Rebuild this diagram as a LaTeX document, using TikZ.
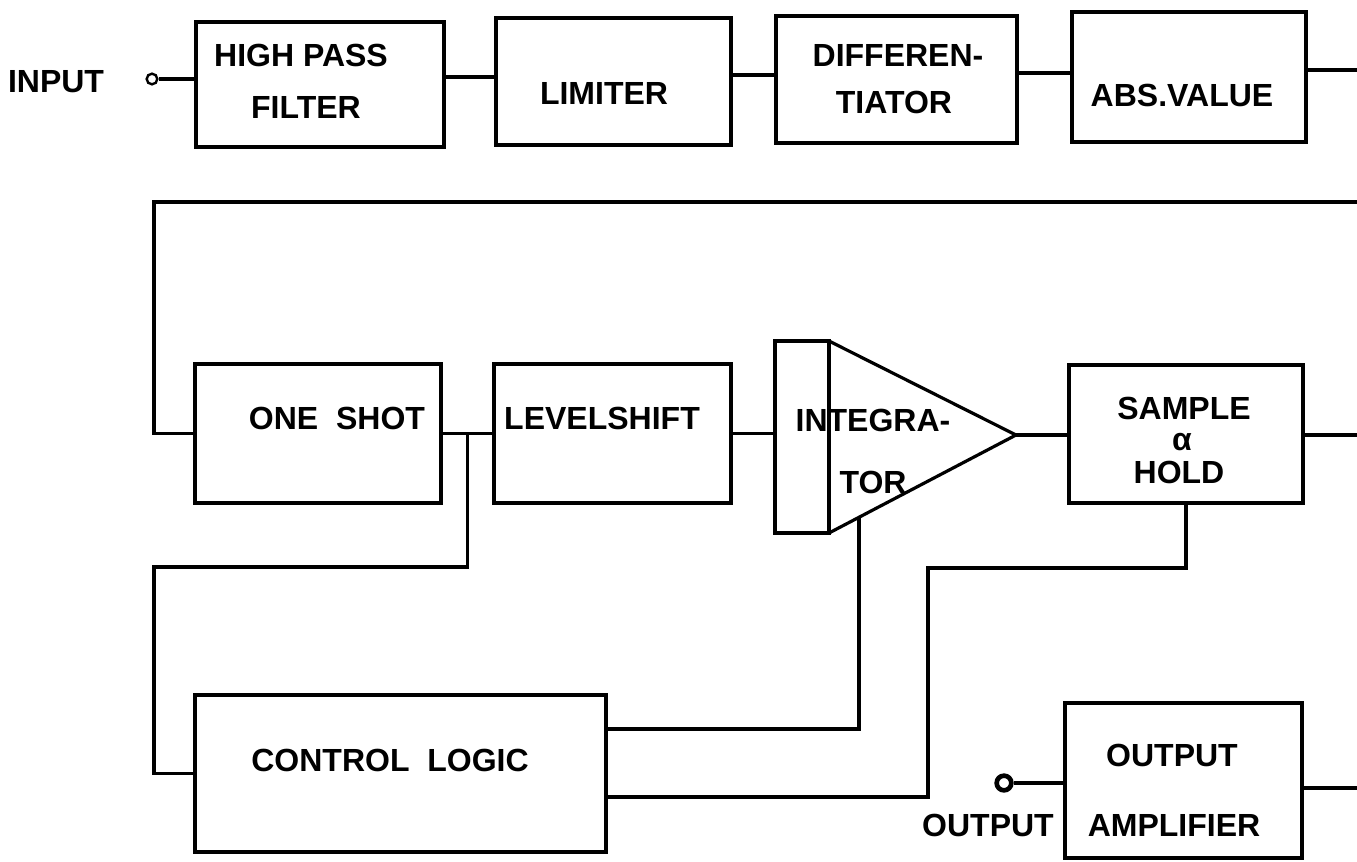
\documentclass[tikz,border=0pt]{standalone}
\usepackage{fontspec}
\setmainfont{Liberation Sans}
\usetikzlibrary{calc}
\newcommand\mybox[5]{\node[box, minimum width={(#4-#2)*0.75pt}, minimum height={(#5-#3)*0.75pt}] (#1) at ({(#2+#4)/2},{(#3+#5)/2}) {};}
\begin{document}
\begin{tikzpicture}[x=0.75pt,y=-0.75pt, line width=2.4pt,
  box/.style={draw, inner sep=0pt, outer sep=0pt},
  lbl/.style={inner sep=0pt, font=\bfseries\fontsize{24}{26}\selectfont},
  term/.style={circle, draw, inner sep=0pt}]
\useasboundingbox (0,0) rectangle (1357,861);
% boxes
\mybox{hpf}{196}{22}{444}{147}
\mybox{lim}{496}{18}{731}{145}
\mybox{dif}{776}{16}{1017}{143}
\mybox{abs}{1072}{12}{1306}{142}
\mybox{one}{195}{364}{441}{503}
\mybox{lvl}{494}{364}{731}{503}
\mybox{intr}{775}{341}{829}{533}
\mybox{sah}{1069}{365}{1303}{503}
\mybox{ctl}{195}{695}{606}{852}
\mybox{amp}{1065}{703}{1302}{858}
\coordinate (tip) at (1016,435);
\draw (intr.north east) -- (tip) -- (intr.south east);
% terminals
\node[term, minimum size=8pt, line width=1.8pt] (inc) at (152,79) {};
\node[term, minimum size=11pt, line width=3.5pt] (outc) at (1004,783) {};
% labels
\node[lbl] (tin) at (56,82) {INPUT};
\node[lbl] (t1) at (301,55) {HIGH PASS};
\node[lbl] (t2) at (306,107) {FILTER};
\node[lbl] (t3) at (604,93) {LIMITER};
\node[lbl] (t4) at (898,55) {DIFFEREN-};
\node[lbl] (t5) at (894,102) {TIATOR};
\node[lbl] (t6) at (1182,95) {ABS.VALUE};
\node[lbl] (t7) at (337,418) {ONE\ \ SHOT};
\node[lbl] (t8) at (602,418) {LEVELSHIFT};
\node[lbl, anchor=west] (t9) at (794,420) {INTEGRA-};
\node[lbl, anchor=west] (t10) at (838,482) {TOR};
\node[lbl] (t11) at (1184,408) {SAMPLE};
\node[lbl] (t12) at (1182,442) {α};
\node[lbl] (t13) at (1179,472) {HOLD};
\node[lbl] (t14) at (390,760) {CONTROL\ \ LOGIC};
\node[lbl] (t15) at (1172,755) {OUTPUT};
\node[lbl] (t16) at (1174,825) {AMPLIFIER};
\node[lbl] (tout) at (988,825) {OUTPUT};
% right-edge coordinates
\coordinate (r1) at (1357,70);
\coordinate (r2) at (1357,202);
\coordinate (l2) at (154,202);
\coordinate (r3) at (1357,435);
\coordinate (r4) at (1357,788);
\coordinate (l3) at (154,567);
\coordinate (k1) at (928,568);
% connectors
\draw (inc) -- (inc -| hpf.west);
\draw (hpf.east |- 0,77) -- (lim.west |- 0,77);
\draw (lim.east |- 0,75) -- (dif.west |- 0,75);
\draw (dif.east |- 0,73) -- (abs.west |- 0,73);
\draw (abs.east |- r1) -- (r1);
\draw (r2) -- (l2) |- (one.west);
\draw (one.east) -- (lvl.west);
\coordinate (j1) at ($(one.east)!0.5!(lvl.west)$);
\draw (j1) |- (l3) |- (ctl.west);
\draw (lvl.east) -- (lvl.east -| intr.west);
\draw (tip) -- (tip -| sah.west);
\draw (sah.east |- r3) -- (r3);
\coordinate (ib) at ($(intr.south east)!0.16!(tip)$);
\draw (ib) |- (ctl.east |- 0,729);
\draw (sah.south) |- (k1) |- (ctl.east |- 0,797);
\draw (outc) -- (outc -| amp.west);
\draw (amp.east |- r4) -- (r4);
\end{tikzpicture}
\end{document}
